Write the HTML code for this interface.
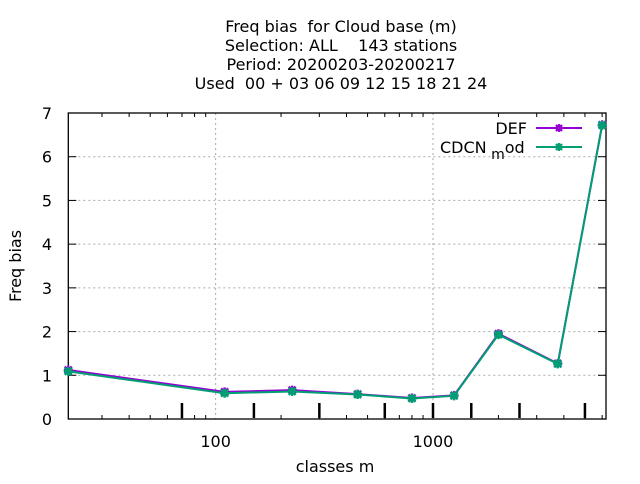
<!DOCTYPE html>
<html><head><meta charset="utf-8"><style>
body{margin:0;background:#fff;font-family:"DejaVu Sans",sans-serif}
svg text{font-family:"DejaVu Sans","Liberation Sans",sans-serif;font-size:16px;fill:#000;white-space:pre}
</style></head><body>
<svg id="c" width="640" height="480" xmlns="http://www.w3.org/2000/svg"></svg>
<script>
const categories=[21,110,225,450,800,1250,2000,3750,6000];
const defValues=[1.12,0.62,0.66,0.57,0.48,0.54,1.95,1.27,6.73];
const cdcnValues=[1.09,0.59,0.63,0.56,0.47,0.53,1.93,1.26,6.72];
const yTicks=[0,1,2,3,4,5,6,7];
const xTickLabels=[100,1000];
const classBounds=[70,150,300,600,1000,1500,2500,5000];
const L=68.3,R=606,T=113,B=419,XMIN=21,XMAX=6250,YMAX=7;
const sx=v=>L+(Math.log10(v)-Math.log10(XMIN))/(Math.log10(XMAX)-Math.log10(XMIN))*(R-L);
const sy=v=>B-v/YMAX*(B-T);
const svg=document.getElementById('c');const NS='http://www.w3.org/2000/svg';
function mk(t,a,p){const e=document.createElementNS(NS,t);for(const k in a)e.setAttribute(k,a[k]);(p||svg).appendChild(e);return e;}
function tx(s,x,y,anchor,name){const e=mk('text',{x:x,y:y,'text-anchor':anchor});e.textContent=s;

return e;}
const titles=['Freq bias  for Cloud base (m)','Selection: ALL    143 stations','Period: 20200203-20200217','Used  00 + 03 06 09 12 15 18 21 24'];
titles.forEach((s,i)=>{tx(s,341,32+i*19,'middle','title-line');});
yTicks.forEach(v=>{const y=sy(v);
 if(v>0&&v<YMAX){const g=mk('line',{x1:L,x2:R,y1:y,y2:y,stroke:'#aaa','stroke-dasharray':'2,3'});
 
 }
 mk('line',{x1:L,x2:L+8,y1:y,y2:y,stroke:'#000'});mk('line',{x1:R-8,x2:R,y1:y,y2:y,stroke:'#000'});
 tx(String(v),52,y+6,'end','y-tick-label');});
xTickLabels.forEach(v=>{const x=sx(v);
 const g=mk('line',{x1:x,x2:x,y1:T,y2:B,stroke:'#aaa','stroke-dasharray':'2,3'});
 
 
 tx(String(v),x,447,'middle','x-tick-label');});
for(let d=10;d<=1000;d*=10)for(let m=2;m<=9;m++){const v=d*m;if(v<XMIN||v>XMAX)continue;const x=sx(v);
 mk('line',{x1:x,x2:x,y1:B,y2:B-4,stroke:'#000'});mk('line',{x1:x,x2:x,y1:T,y2:T+4,stroke:'#000'});}
classBounds.forEach(v=>{const x=sx(v);const t=mk('line',{x1:x,x2:x,y1:B-1,y2:B-16,stroke:'#000','stroke-width':2.5});
 
 });
const frame=mk('rect',{x:L,y:T,width:R-L,height:B-T,fill:'none',stroke:'#000','stroke-width':1.3});


function series(vals,color,name){const g=mk('g',{});
 
 
 mk('polyline',{points:vals.map((v,i)=>sx(categories[i])+','+sy(v)).join(' '),fill:'none',stroke:color,'stroke-width':2},g);
 vals.forEach((v,i)=>{const x=sx(categories[i]),y=sy(v);
  const p=mk('path',{d:`M${x-4.5},${y}H${x+4.5}M${x},${y-4.5}V${y+4.5}M${x-3.5},${y-3.5}L${x+3.5},${y+3.5}M${x-3.5},${y+3.5}L${x+3.5},${y-3.5}`,stroke:color,'stroke-width':2.4},g);
  
  });}
series(defValues,'#9400d3','series-def');
series(cdcnValues,'#009e73','series-cdcn-mod');
tx('DEF',527,134,'end','legend-label-def');
mk('line',{x1:536,x2:582,y1:128,y2:128,stroke:'#9400d3','stroke-width':2});
mk('path',{d:'M555,128h8M559,124v8M556,125l6,6M556,131l6,-6',stroke:'#9400d3','stroke-width':2.2});
const c=mk('text',{x:440,y:153});
c.innerHTML='CDCN<tspan dy="6" font-size="14"> m</tspan><tspan dy="-6">od</tspan>';
mk('line',{x1:536,x2:582,y1:147,y2:147,stroke:'#009e73','stroke-width':2});
mk('path',{d:'M555,147h8M559,143v8M556,144l6,6M556,150l6,-6',stroke:'#009e73','stroke-width':2.2});
tx('classes m',335,472,'middle','x-axis-title');
const yt=tx('Freq bias',21,266,'middle','y-axis-title');yt.setAttribute('transform','rotate(-90 21 266)');
</script>
</body></html>
